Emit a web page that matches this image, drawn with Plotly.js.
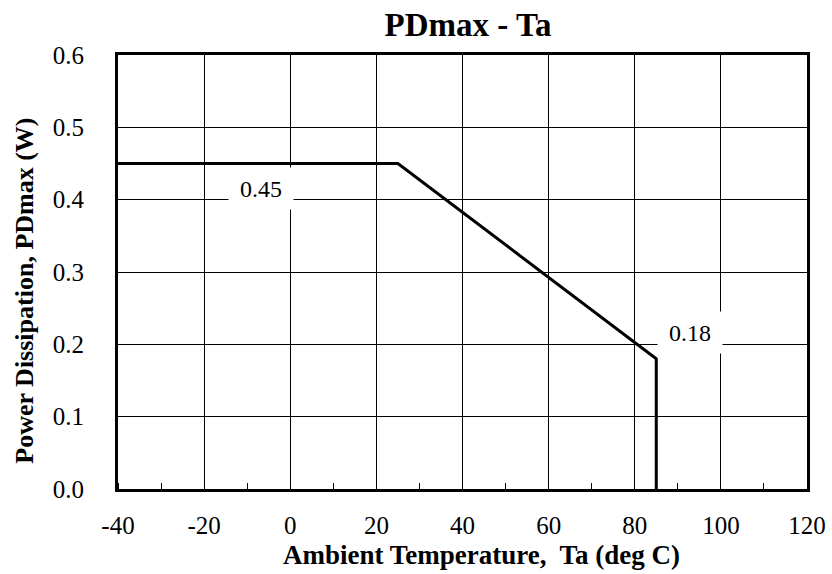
<!DOCTYPE html>
<html><head><meta charset="utf-8">
<script src="https://cdn.plot.ly/plotly-3.0.1.min.js"></script>
<style>html,body{margin:0;padding:0;background:#fff}#chart{width:832px;height:574px}</style>
</head><body><div id="chart"></div>
<script>
const temperature = [-40, 25, 85, 85];
const pdMax = [0.45, 0.45, 0.18, 0.0];
const xTickVals = [-40, -20, 0, 20, 40, 60, 80, 100, 120];
const xTickText = ['-40', '-20', '0', '20', '40', '60', '80', '100', '120'];
const yTickVals = [0, 0.1, 0.2, 0.3, 0.4, 0.5, 0.6];
const yTickText = ['0.0', '0.1', '0.2', '0.3', '0.4', '0.5', '0.6'];
const labelText = ['0.45', '0.18'];
const labelX = [-6.9, 92.8];
const labelY = [0.415, 0.217];

const font = '"Liberation Serif", "Times New Roman", serif';
const trace = {
  x: temperature, y: pdMax, type: 'scatter', mode: 'lines',
  line: {color: '#000', width: 3}, hoverinfo: 'skip', cliponaxis: false
};
const annotations = labelText.map((t, i) => ({
  x: labelX[i], y: labelY[i], xref: 'x', yref: 'y', text: t, showarrow: false,
  bgcolor: '#fff', borderpad: 7, width: 50, height: 27,
  font: {family: font, size: 24, color: '#000'}
}));
annotations.push({
  xref: 'paper', yref: 'paper', x: -0.135, y: 0.457, xanchor: 'center', yanchor: 'middle',
  text: '<b>Power Dissipation, PDmax (W)</b>', textangle: -90, showarrow: false,
  font: {family: font, size: 26, color: '#000'}
});
annotations.push({
  xref: 'paper', yref: 'paper', x: 0.527, y: -0.152, xanchor: 'center', yanchor: 'middle',
  text: '<b>Ambient Temperature,  Ta (deg C)</b>', showarrow: false,
  font: {family: font, size: 27, color: '#000'}
});
const layout = {
  width: 832, height: 574,
  margin: {l: 118, r: 25, t: 55, b: 85},
  paper_bgcolor: '#fff', plot_bgcolor: '#fff',
  showlegend: false,
  title: {text: '<b>PDmax - Ta</b>', x: 0.5625, xanchor: 'center', y: 0.958, yanchor: 'middle',
          font: {family: font, size: 33, color: '#000'}},
  xaxis: {
    range: [-40, 120], tickmode: 'array', tickvals: xTickVals, ticktext: xTickText,
    showgrid: true, gridcolor: '#000', gridwidth: 1,
    showline: true, linecolor: '#000', linewidth: 3, mirror: true,
    zeroline: false, ticks: '', ticklabelstandoff: 12,
    minor: {ticks: 'inside', dtick: 10, tick0: -40, ticklen: 6, tickcolor: '#000', tickwidth: 1, showgrid: false},
    tickfont: {family: font, size: 25, color: '#000'}
  },
  yaxis: {
    range: [0, 0.6], tickmode: 'array', tickvals: yTickVals, ticktext: yTickText,
    showgrid: true, gridcolor: '#000', gridwidth: 1,
    showline: true, linecolor: '#000', linewidth: 3, mirror: true,
    zeroline: false, ticks: '', ticklabelstandoff: 26,
    tickfont: {family: font, size: 25, color: '#000'}
  },
  annotations: annotations
};
Plotly.newPlot('chart', [trace], layout, {staticPlot: true, displayModeBar: false});
</script></body></html>
